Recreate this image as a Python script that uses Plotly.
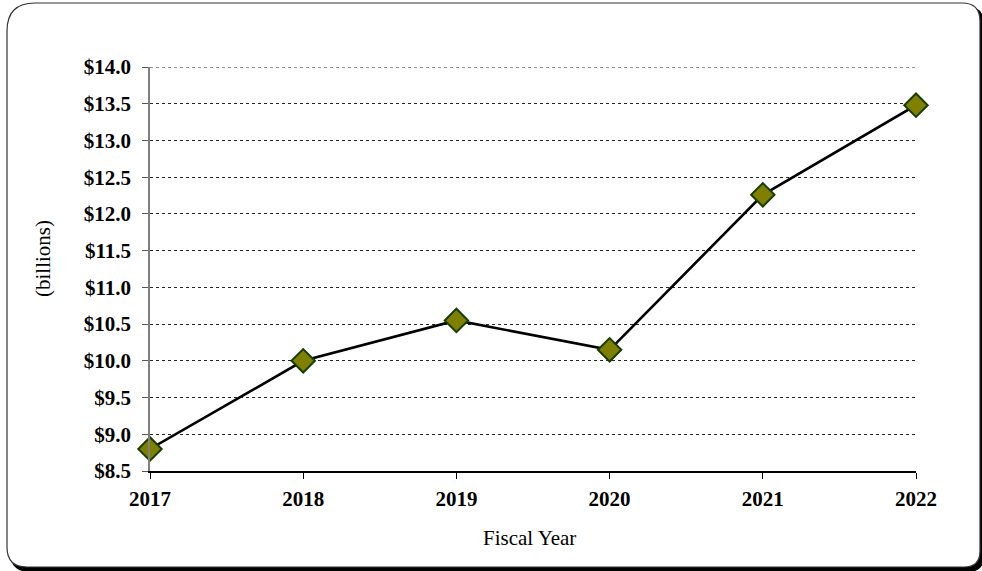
import plotly.graph_objects as go

# Fiscal year totals, in billions of dollars
years = ["2017", "2018", "2019", "2020", "2021", "2022"]
values = [8.80, 10.00, 10.55, 10.15, 12.26, 13.48]

y_ticks = [8.5, 9.0, 9.5, 10.0, 10.5, 11.0, 11.5, 12.0, 12.5, 13.0, 13.5, 14.0]

W, H = 982, 571
L, R, T, B = 150, 66, 67, 100
PW, PH = W - L - R, H - T - B


def px_x(px):
    return (px - L) / PW


def px_y(py):
    return (H - B - py) / PH


def rounded_rect(x0, y0, x1, y1, r_tl, r_tr, r_br, r_bl):
    # rounded rectangle path in paper coordinates, built from pixel corners
    pts = [
        f"M {px_x(x0 + r_tl)},{px_y(y0)}",
        f"L {px_x(x1 - r_tr)},{px_y(y0)}",
        f"Q {px_x(x1)},{px_y(y0)} {px_x(x1)},{px_y(y0 + r_tr)}",
        f"L {px_x(x1)},{px_y(y1 - r_br)}",
        f"Q {px_x(x1)},{px_y(y1)} {px_x(x1 - r_br)},{px_y(y1)}",
        f"L {px_x(x0 + r_bl)},{px_y(y1)}",
        f"Q {px_x(x0)},{px_y(y1)} {px_x(x0)},{px_y(y1 - r_bl)}",
        f"L {px_x(x0)},{px_y(y0 + r_tl)}",
        f"Q {px_x(x0)},{px_y(y0)} {px_x(x0 + r_tl)},{px_y(y0)}",
        "Z",
    ]
    return " ".join(pts)


FONT = "Liberation Serif, Times New Roman, serif"
GRID = "#262626"

fig = go.Figure()
fig.add_trace(
    go.Scatter(
        x=list(range(len(years))),
        y=values,
        mode="lines+markers",
        line=dict(color="black", width=2.6),
        marker=dict(
            symbol="diamond",
            size=18,
            color="#808000",
            line=dict(color="#173d00", width=2),
        ),
        cliponaxis=False,
        showlegend=False,
    )
)

# frame with drop shadow
fig.add_shape(
    type="path",
    xref="paper",
    yref="paper",
    path=rounded_rect(10, 6, 984, 572, 28, 18, 16, 20),
    fillcolor="black",
    line=dict(width=0),
    layer="below",
)
fig.add_shape(
    type="path",
    xref="paper",
    yref="paper",
    path=rounded_rect(7, 3, 980, 567, 28, 18, 16, 20),
    fillcolor="white",
    line=dict(color="#333333", width=1.2),
    layer="below",
)

# top gridline at the upper end of the value range
fig.add_shape(
    type="line",
    xref="paper",
    yref="y",
    x0=0, x1=1, y0=y_ticks[-1], y1=y_ticks[-1],
    line=dict(color=GRID, width=1, dash="dot"),
    layer="below",
)

fig.add_annotation(
    x=px_x(529), y=px_y(538), xref="paper", yref="paper",
    text="Fiscal Year", showarrow=False,
    font=dict(family=FONT, size=21, color="black"),
    xanchor="center", yanchor="middle",
)
fig.add_annotation(
    x=px_x(43), y=px_y(259), xref="paper", yref="paper",
    text="(billions)", showarrow=False, textangle=-90,
    font=dict(family=FONT, size=21, color="black"),
    xanchor="center", yanchor="middle",
)

fig.update_xaxes(
    range=[0, len(years) - 1],
    tickmode="array",
    tickvals=list(range(len(years))),
    ticktext=years,
    tickfont=dict(family=FONT, size=21, color="black", weight="bold"),
    ticks="outside",
    ticklen=6,
    tickcolor="black",
    ticklabelstandoff=2,
    showline=True,
    linecolor="black",
    linewidth=1.5,
    showgrid=False,
    zeroline=False,
)
fig.update_yaxes(
    range=[8.5, 14.0],
    tickmode="array",
    tickvals=y_ticks,
    ticktext=[f"${v:.1f}" for v in y_ticks],
    tickfont=dict(family=FONT, size=21, color="black", weight="bold"),
    ticks="outside",
    ticklen=6,
    tickcolor="#555555",
    ticklabelstandoff=7,
    showline=True,
    linecolor="#808080",
    linewidth=1.5,
    showgrid=True,
    gridcolor=GRID,
    gridwidth=1,
    griddash="dot",
    zeroline=False,
)

fig.update_layout(
    width=W,
    height=H,
    margin=dict(l=L, r=R, t=T, b=B),
    paper_bgcolor="white",
    plot_bgcolor="rgba(0,0,0,0)",
)

fig.write_html("out.html")
